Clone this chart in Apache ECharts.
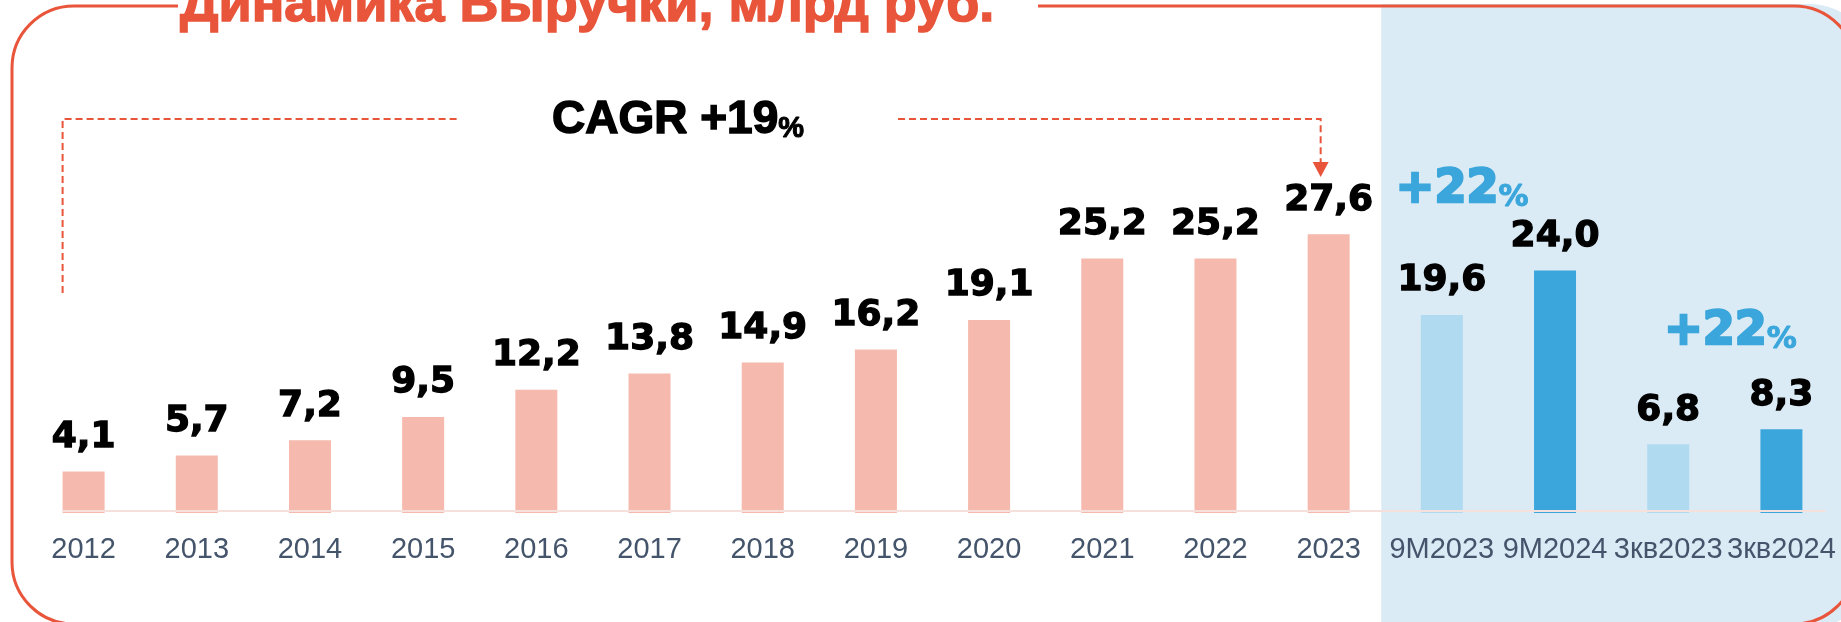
<!DOCTYPE html>
<html><head><meta charset="utf-8">
<script src="https://cdn.jsdelivr.net/npm/echarts@6/dist/echarts.min.js"></script>
<style>html,body{margin:0;padding:0;background:#fff}#c{width:1841px;height:622px}</style>
</head><body><div id="c"></div>
<script>
// ---- data ----
const categories = ['2012','2013','2014','2015','2016','2017','2018','2019','2020','2021','2022','2023','9M2023','9M2024','3кв2023','3кв2024'];
const revenue = [4.1, 5.7, 7.2, 9.5, 12.2, 13.8, 14.9, 16.2, 19.1, 25.2, 25.2, 27.6, 19.6, 24.0, 6.8, 8.3];
const barGroup = ['year','year','year','year','year','year','year','year','year','year','year','year','prev','curr','prev','curr'];
const titleText = 'Динамика Выручки, млрд руб.';
const cagrLabel = 'CAGR +19';
const cagrFrom = '2012';
const cagrTo = '2023';
const growthLabels = ['+22', '+22'];
const growthFrom = ['9M2023', '3кв2023'];

// ---- styles ----
const groupColors = { year: '#F5B9AD', prev: '#B0DAF0', curr: '#3BA6DB' };
const ORANGE = '#E8553A';
const BLUE = '#3BA6DB';

const chart = echarts.init(document.getElementById('c'), null, { renderer: 'canvas' });
chart.setOption({
  animation: false,
  backgroundColor: '#ffffff',
  grid: { left: 27, right: 3, top: 210, bottom: 109, containLabel: false },
  xAxis: {
    type: 'category', data: categories,
    axisLine: { show: false }, axisTick: { show: false },
    axisLabel: { interval: 0, margin: 22, color: '#44546A', fontFamily: 'Liberation Sans, Arial, sans-serif', fontSize: 29, lineHeight: 29 }
  },
  yAxis: { type: 'value', min: 0, max: 30, show: false, splitLine: { show: false } },
  series: [{
    type: 'bar', barWidth: 42, z: 2,
    data: revenue.map((v, i) => ({ value: v, itemStyle: { color: groupColors[barGroup[i]] } })),
    label: {
      show: true, position: 'top', distance: 16,
      formatter: p => p.value.toFixed(1).replace('.', ','),
      fontFamily: 'DejaVu Sans', fontWeight: 'bold', fontSize: 36, lineHeight: 36, color: '#000',
      textBorderColor: '#000', textBorderWidth: 1.3
    }
  }]
});

function buildGraphics() {
  const cx = name => chart.convertToPixel({ xAxisIndex: 0 }, name);
  const y0 = chart.convertToPixel({ yAxisIndex: 0 }, 0);
  const band = cx(categories[1]) - cx(categories[0]);
  const panelX = cx(growthFrom[0]) - band / 2 - 4;
  const xL = cx(cagrFrom) - 21;
  const xR = cx(cagrTo) - 8;
  const lineY = 119;
  const dash = { stroke: ORANGE, lineWidth: 2, lineDash: [7, 4], fill: null };
  const els = [
    { type: 'rect', z: -10, shape: { x: panelX, y: 4, width: 1875 - panelX, height: 624, r: [0, 66, 66, 0] }, style: { fill: '#DAEBF6' } },
    { type: 'rect', z: 100, shape: { x: 12, y: 6, width: 1844, height: 618, r: 62 }, style: { fill: null, stroke: ORANGE, lineWidth: 3 } },
    { type: 'rect', z: 101, shape: { x: 178, y: 0, width: 860, height: 14 }, style: { fill: '#ffffff' } },
    { type: 'text', z: 102, x: 180, y: 6, style: { text: titleText, fill: ORANGE, stroke: ORANGE, lineWidth: 1.5, font: 'bold 54px "Liberation Sans", Arial, sans-serif', align: 'left', verticalAlign: 'middle' } },
    { type: 'line', z: 10, shape: { x1: cx(categories[0]) - 21, y1: y0 - 2, x2: cx(categories[categories.length - 1]) + 44, y2: y0 - 2 }, style: { stroke: '#F6E0DC', lineWidth: 2 } },
    { type: 'polyline', z: 20, shape: { points: [[xL, 293], [xL, lineY], [458, lineY]] }, style: dash },
    { type: 'polyline', z: 20, shape: { points: [[898, lineY], [xR, lineY], [xR, 163]] }, style: dash },
    { type: 'polygon', z: 20, shape: { points: [[xR - 8, 162], [xR + 8, 162], [xR, 177]] }, style: { fill: ORANGE } },
    { type: 'text', z: 20, x: 678, y: 120, style: {
        text: '{a|' + cagrLabel + '}{b|%}', align: 'center', verticalAlign: 'middle',
        rich: {
          a: { fontFamily: 'Liberation Sans', fontWeight: 'bold', fontSize: 46, lineHeight: 46, fill: '#000', stroke: '#000', lineWidth: 1.5, verticalAlign: 'bottom' },
          b: { fontFamily: 'Liberation Sans', fontWeight: 'bold', fontSize: 29, lineHeight: 34, fill: '#000', stroke: '#000', lineWidth: 1, verticalAlign: 'bottom' }
        } } }
  ];
  const gOffsets = [[-46, 190], [-4, 332]];
  growthLabels.forEach((t, i) => {
    els.push({ type: 'text', z: 20, x: cx(growthFrom[i]) + gOffsets[i][0], y: gOffsets[i][1], style: {
      text: '{a|' + t + '}{b|%}', align: 'left', verticalAlign: 'middle',
      rich: {
        a: { fontFamily: 'DejaVu Sans', fontWeight: 'bold', fontSize: 46, lineHeight: 46, fill: BLUE, stroke: BLUE, lineWidth: 2.5, verticalAlign: 'bottom' },
        b: { fontFamily: 'DejaVu Sans', fontWeight: 'bold', fontSize: 30, lineHeight: 35, fill: BLUE, stroke: BLUE, lineWidth: 1, verticalAlign: 'bottom' }
      } } });
  });
  chart.setOption({ graphic: { elements: els } });
}
buildGraphics();
</script>
</body></html>
